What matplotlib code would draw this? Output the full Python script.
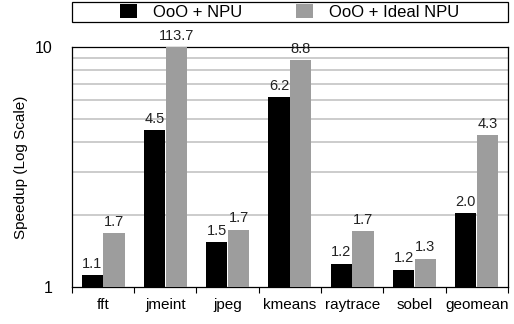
import numpy as np
import matplotlib
matplotlib.use("Agg")
import matplotlib.pyplot as plt
from matplotlib.patches import Rectangle
from matplotlib.ticker import FixedLocator, NullFormatter

plt.rcParams['font.family'] = ['Liberation Sans', 'DejaVu Sans']

benchmarks = ["fft", "jmeint", "jpeg", "kmeans", "raytrace", "sobel", "geomean"]
npu = [1.12, 4.5, 1.54, 6.2, 1.25, 1.18, 2.03]
ideal = [1.68, 113.7, 1.73, 8.8, 1.7, 1.31, 4.3]
series_names = ["OoO + NPU", "OoO + Ideal NPU"]

fig = plt.figure(figsize=(5.14, 3.24), dpi=100)
ax = fig.add_axes([0.14, 0.115, 0.848, 0.74])

x = np.arange(len(benchmarks))
w = 0.34
ymax = 10
b1 = ax.bar(x - w / 2 - 0.005, np.minimum(npu, ymax), w, color="black", label=series_names[0], zorder=3)
b2 = ax.bar(x + w / 2 + 0.005, np.minimum(ideal, ymax), w, color="#9d9d9d", label=series_names[1], zorder=3)

for rects, vals in ((b1, npu), (b2, ideal)):
    for r, v in zip(rects, vals):
        ax.annotate("%.1f" % v, (r.get_x() + r.get_width() / 2, min(v, ymax)),
                    xytext=(0, 3), textcoords="offset points", ha="center", va="bottom",
                    fontsize=10.5, color="#222222", annotation_clip=False, zorder=4)

ax.set_yscale("log")
ax.set_ylim(1, 10)
ax.set_xlim(-0.5, len(benchmarks) - 0.5)
ax.yaxis.set_major_locator(FixedLocator([1, 10]))
ax.yaxis.set_minor_locator(FixedLocator([2, 3, 4, 5, 6, 7, 8, 9]))
ax.yaxis.set_minor_formatter(NullFormatter())
ax.set_yticklabels(["1", "10"])
ax.tick_params(axis="y", which="both", length=0, labelsize=11.5, pad=14)
ax.grid(axis="y", which="minor", color="#c8c8c8", linewidth=1.3, zorder=0)

ax.set_xticks(x)
ax.set_xticklabels(benchmarks)
ax.set_xticks(np.arange(len(benchmarks) + 1) - 0.5, minor=True)
ax.tick_params(axis="x", which="major", length=0, labelsize=11, pad=8)
ax.tick_params(axis="x", which="minor", length=4, direction="out", width=0.8)

for s in ax.spines.values():
    s.set_linewidth(0.9)

ax.set_ylabel("Speedup (Log Scale)", fontsize=11, labelpad=5)

# legend box spanning the plot width
fig.patches.append(Rectangle((0.14, 0.932), 0.848, 0.062, transform=fig.transFigure,
                             fill=False, edgecolor="black", linewidth=0.9))
leg = fig.legend(handles=[b1, b2], loc="center", bbox_to_anchor=(0.564, 0.963),
                 ncol=2, frameon=False, fontsize=12,
                 handlelength=1.0, handleheight=0.9, borderpad=0, handletextpad=1.0,
                 columnspacing=3.2, borderaxespad=0)

fig.savefig("out.png", dpi=100)
